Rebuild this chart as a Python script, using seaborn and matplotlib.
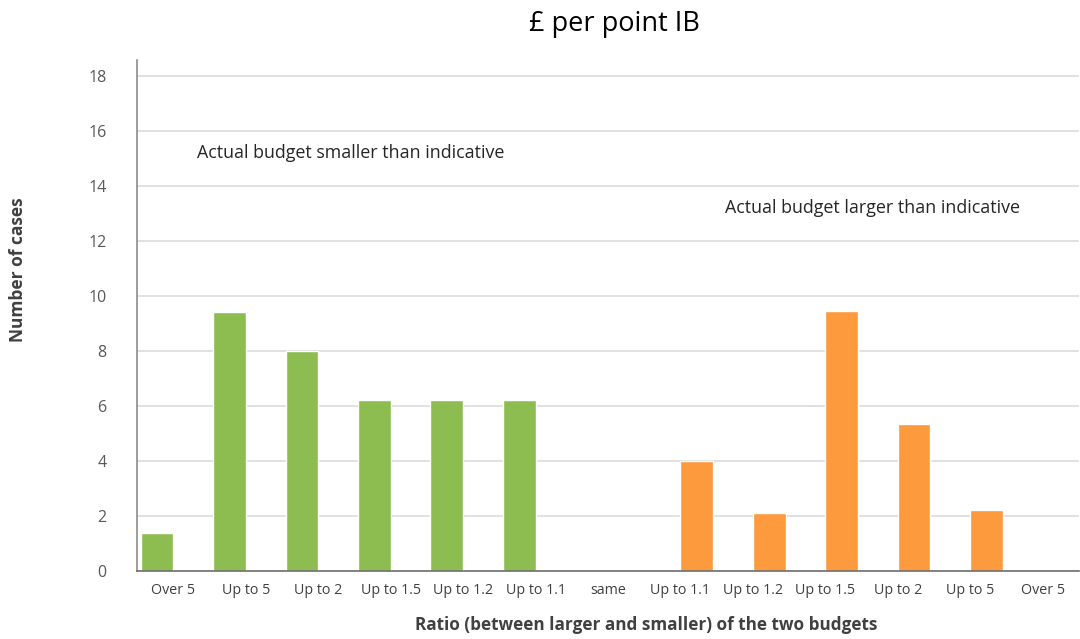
import matplotlib
matplotlib.use("Agg")
import matplotlib.pyplot as plt
import seaborn as sns
import pandas as pd

# Ratio bands, from "actual smaller" on the left to "actual larger" on the right
ratio_labels = ["Over 5", "Up to 5", "Up to 2", "Up to 1.5", "Up to 1.2", "Up to 1.1",
                "same",
                "Up to 1.1", "Up to 1.2", "Up to 1.5", "Up to 2", "Up to 5", "Over 5"]
cases = [1.38, 9.4, 8.0, 6.2, 6.2, 6.2,
         0.0,
         4.0, 2.1, 9.45, 5.35, 2.2, 0.0]
side = ["smaller"] * 6 + ["larger"] * 7
y_ticks = list(range(0, 19, 2))

df = pd.DataFrame({
    "slot": [str(i) for i in range(len(ratio_labels))],
    "cases": cases,
    "side": side,
})

sns.set_theme(style="white")
plt.rcParams["font.family"] = ["Open Sans", "DejaVu Sans"]

fig = plt.figure(figsize=(10.8, 6.39), dpi=100)
ax = fig.add_axes([137 / 1080, 1 - 570.7 / 639, (1079 - 137) / 1080, (570.7 - 60) / 639])

sns.barplot(data=df, x="slot", y="cases", hue="side",
            hue_order=["smaller", "larger"],
            palette={"smaller": "#8dbd50", "larger": "#fd9a3e"},
            width=0.9, dodge=True, legend=False, saturation=1, ax=ax)

ax.set_ylim(0, 18.57)
ax.set_yticks(y_ticks)
ax.set_xticks(range(len(ratio_labels)))
ax.set_xticklabels(ratio_labels)
ax.set_xlim(-0.5, len(ratio_labels) - 0.5)

ax.yaxis.grid(True, color="#d9d9d9", linewidth=1.1)
ax.set_axisbelow(True)
for s in ["top", "right"]:
    ax.spines[s].set_visible(False)
ax.spines["left"].set_color("#8c8c8c")
ax.spines["left"].set_linewidth(1.2)
ax.spines["bottom"].set_color("#6e6e6e")
ax.spines["bottom"].set_linewidth(1.2)
ax.tick_params(axis="y", length=0, pad=22, labelsize=11.5, labelcolor="#595959")
ax.tick_params(axis="x", length=0, pad=9, labelsize=10.3, labelcolor="#404040")
ax.set_xlabel("")
ax.set_ylabel("")

fig.text(18 / 1080, 1 - 270 / 639, "Number of cases", rotation=90,
         fontsize=12.5, fontweight="bold", color="#404040", ha="center", va="center")
fig.text(646 / 1080, 1 - 625 / 639, "Ratio (between larger and smaller) of the two budgets",
         fontsize=12.3, fontweight="bold", color="#404040", ha="center", va="center")

ax.text(0.064, 15.2, "Actual budget smaller than indicative", transform=ax.get_yaxis_transform(),
        fontsize=12.9, color="#262626", va="center", ha="left")
ax.text(0.624, 13.2, "Actual budget larger than indicative", transform=ax.get_yaxis_transform(),
        fontsize=12.9, color="#262626", va="center", ha="left")

fig.text(614 / 1080, 1 - 24 / 639, "£ per point IB", fontsize=19.5, color="#000000",
         ha="center", va="center")

fig.savefig("out.png", dpi=100, facecolor="white")
